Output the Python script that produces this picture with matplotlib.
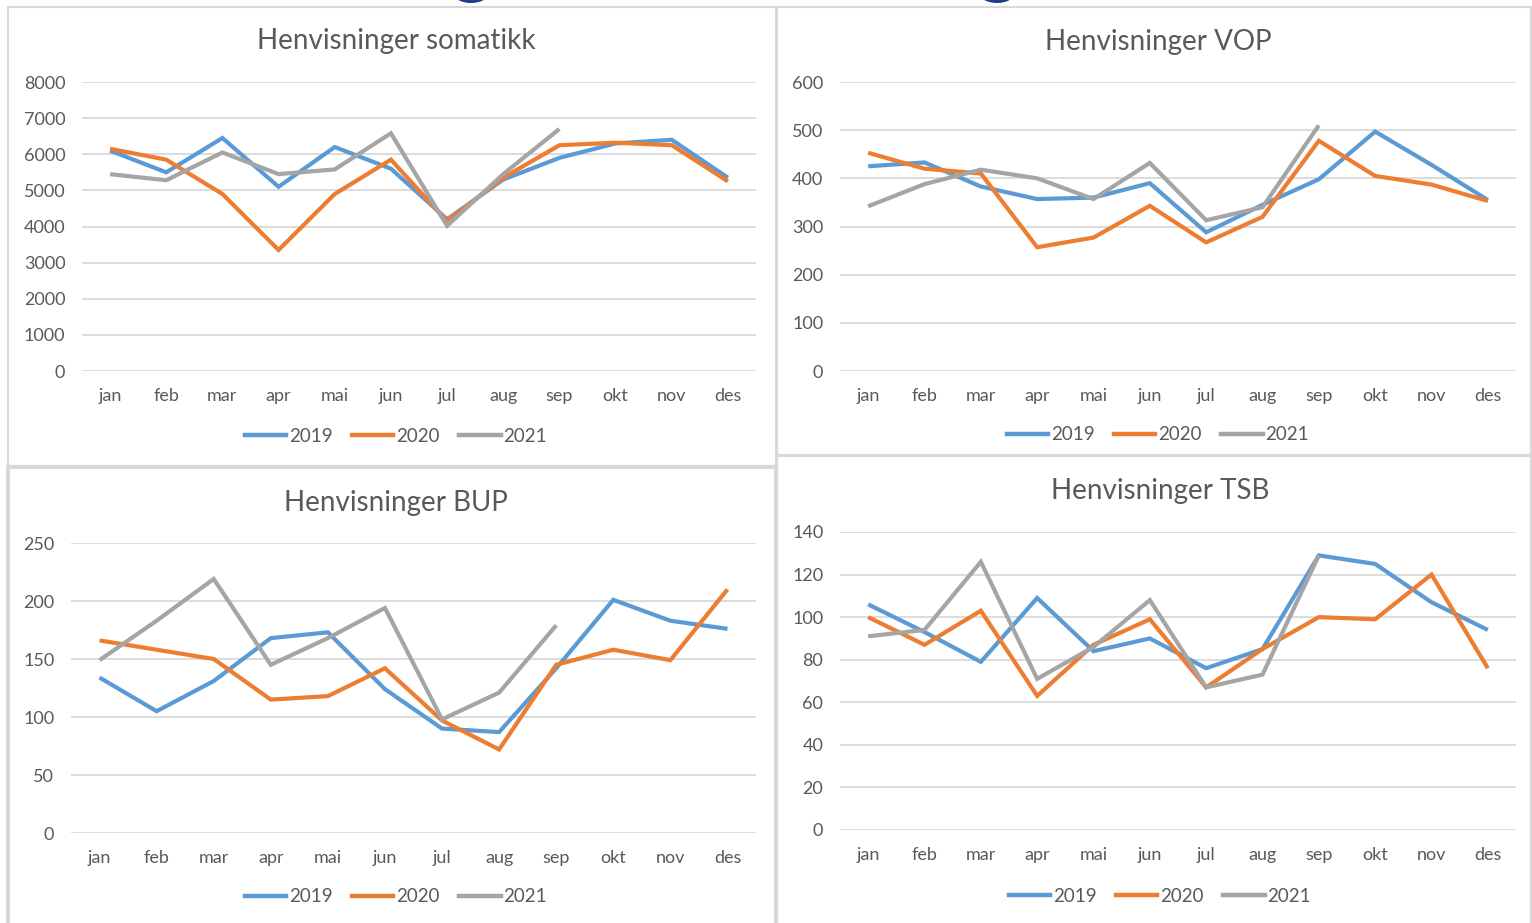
import matplotlib
matplotlib.use('Agg')
import matplotlib.pyplot as plt
from matplotlib.lines import Line2D
from matplotlib.patches import Rectangle, Ellipse

plt.rcParams['font.family'] = ['Lato', 'DejaVu Sans']

W, H = 1532, 923

months = ['jan', 'feb', 'mar', 'apr', 'mai', 'jun', 'jul', 'aug', 'sep', 'okt', 'nov', 'des']
years = ['2019', '2020', '2021']

# Henvisninger somatikk
som_2019 = [6100, 5500, 6450, 5100, 6200, 5600, 4200, 5300, 5900, 6300, 6400, 5350]
som_2020 = [6150, 5850, 4900, 3350, 4900, 5850, 4150, 5350, 6250, 6320, 6250, 5250]
som_2021 = [5450, 5280, 6050, 5450, 5580, 6580, 4020, 5450, 6700]

# Henvisninger VOP
vop_2019 = [425, 433, 383, 357, 360, 390, 288, 345, 398, 497, 428, 355]
vop_2020 = [453, 420, 410, 257, 277, 343, 267, 320, 478, 405, 387, 353]
vop_2021 = [342, 388, 418, 400, 357, 432, 313, 340, 510]

# Henvisninger BUP
bup_2019 = [134, 105, 131, 168, 173, 124, 90, 87, 142, 201, 183, 176]
bup_2020 = [166, 158, 150, 115, 118, 142, 97, 72, 145, 158, 149, 210]
bup_2021 = [149, 183, 219, 145, 168, 194, 98, 121, 179]

# Henvisninger TSB
tsb_2019 = [106, 93, 79, 109, 84, 90, 76, 85, 129, 125, 107, 94]
tsb_2020 = [100, 87, 103, 63, 87, 99, 67, 85, 100, 99, 120, 76]
tsb_2021 = [91, 94, 126, 71, 86, 108, 67, 73, 129]

colors = ['#5B9BD5', '#ED7D31', '#A5A5A5']
text_col = '#595959'
grid_col = '#D9D9D9'

fig = plt.figure(figsize=(W / 100, H / 100), dpi=100)


def px_box(x0, y0, x1, y1):
    # pixel box (top-left origin) -> figure fraction [l, b, w, h]
    return [x0 / W, 1 - y1 / H, (x1 - x0) / W, (y1 - y0) / H]


def fx(x):
    return x / W


def fy(y):
    return 1 - y / H


# panel borders
border = dict(transform=fig.transFigure, fill=False, edgecolor=grid_col, zorder=0)
fig.patches.append(Rectangle((fx(8), fy(466)), fx(776) - fx(8), fy(7) - fy(466), lw=1.5, **border))
fig.patches.append(Rectangle((fx(777), fy(455)), fx(1531) - fx(777), fy(7) - fy(455), lw=1.5, **border))
fig.patches.append(Rectangle((fx(8), fy(925)), fx(776) - fx(8), fy(467) - fy(925), lw=3, **border))
fig.patches.append(Rectangle((fx(777), fy(925)), fx(1531) - fx(777), fy(456) - fy(925), lw=1.5, **border))

# bits of the logo peeking in at the top
for cx in [471, 997]:
    fig.patches.append(Ellipse((fx(cx), fy(-6)), 34 / W, 18 / H, transform=fig.transFigure,
                               facecolor='#1F3F8C', edgecolor='none', zorder=1))

panels = [
    ('Henvisninger somatikk', [som_2019, som_2020, som_2021], 8000, 1000,
     (82, 82, 756, 371), 41, 436, 396),
    ('Henvisninger VOP', [vop_2019, vop_2020, vop_2021], 600, 100,
     (840, 82, 1516, 371), 42, 435, 1158),
    ('Henvisninger BUP', [bup_2019, bup_2020, bup_2021], 250, 50,
     (71, 543, 756, 833), 503, 897, 396),
    ('Henvisninger TSB', [tsb_2019, tsb_2020, tsb_2021], 140, 20,
     (840, 532, 1516, 830), 491, 896, 1160),
]

for title, series, ymax, step, box, ty, ly, lx in panels:
    ax = fig.add_axes(px_box(*box))
    for vals, c, yr in zip(series, colors, years):
        ax.plot(range(len(vals)), vals, color=c, lw=3.0, label=yr,
                solid_joinstyle='miter', solid_capstyle='butt')
    ax.set_xlim(-0.5, 11.5)
    ax.set_ylim(0, ymax)
    ax.set_yticks(range(0, ymax + 1, step))
    ax.set_xticks(range(12))
    ax.set_xticklabels(months)
    ax.grid(axis='y', color=grid_col, lw=1.3)
    ax.set_axisbelow(True)
    for s in ax.spines.values():
        s.set_visible(False)
    ax.tick_params(length=0, labelsize=13, colors=text_col, pad=12)
    ax.tick_params(axis='x', pad=12)
    fig.text(fx(lx), fy(ty), title, ha='center', va='center', fontsize=20, color=text_col)
    handles = [Line2D([0], [0], color=c, lw=3.2) for c in colors]
    fig.legend(handles, years, loc='center', bbox_to_anchor=(fx(lx), fy(ly)), ncol=3,
               frameon=False, fontsize=13.5, labelcolor=text_col, handlelength=2.2,
               handletextpad=0.15, columnspacing=1.05, borderpad=0)

plt.savefig('out.png', dpi=100, facecolor='white')
